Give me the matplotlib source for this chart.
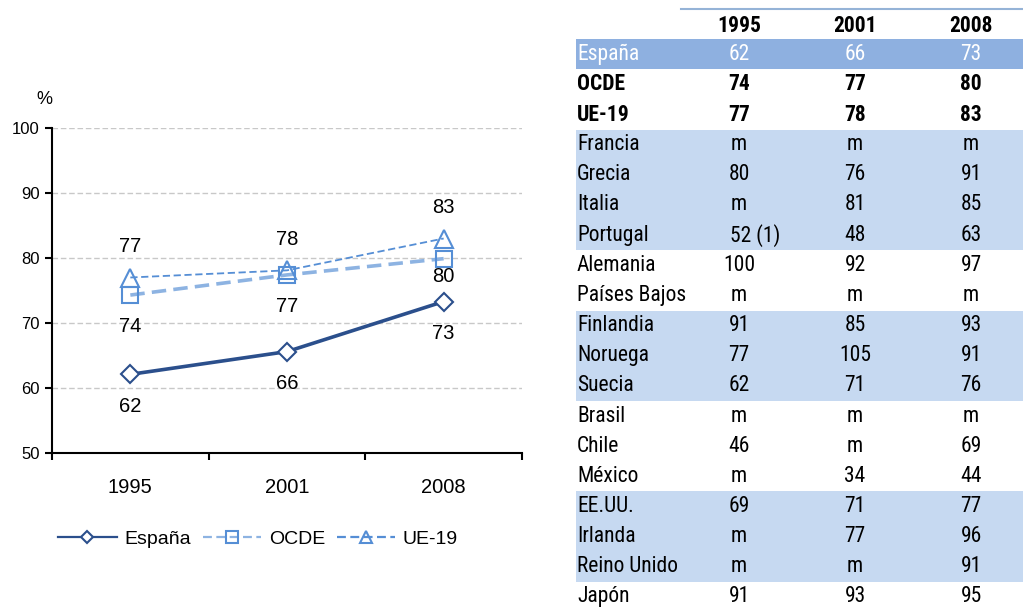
import numpy as np
import matplotlib.pyplot as plt

years = ['1995', '2001', '2008']
espana = [62.1, 65.6, 73.3]
ocde = [74.3, 77.4, 79.9]
ue19 = [77.0, 78.1, 83.0]
espana_lbl = ['62', '66', '73']
ocde_lbl = ['74', '77', '80']
ue19_lbl = ['77', '78', '83']

row_names = ['España', 'OCDE', 'UE-19', 'Francia', 'Grecia', 'Italia', 'Portugal',
             'Alemania', 'Países Bajos', 'Finlandia', 'Noruega', 'Suecia',
             'Brasil', 'Chile', 'México', 'EE.UU.', 'Irlanda', 'Reino Unido', 'Japón']
col_1995 = ['62', '74', '77', 'm', '80', 'm', '52 (1)', '100', 'm', '91', '77', '62',
            'm', '46', 'm', '69', 'm', 'm', '91']
col_2001 = ['66', '77', '78', 'm', '76', '81', '48', '92', 'm', '85', '105', '71',
            'm', 'm', '34', '71', '77', 'm', '93']
col_2008 = ['73', '80', '83', 'm', '91', '85', '63', '97', 'm', '93', '91', '76',
            'm', '69', '44', '77', '96', '91', '95']
# shaded row groups (first row, last row), 1-based data rows
bands = [(4, 7), (10, 12), (16, 18)]

DARK = '#2B4F8C'
MID = '#558ED5'
LIGHT = '#8DB3E2'

W, H = 1023, 608
fig = plt.figure(figsize=(W / 100, H / 100), dpi=100)
plt.rcParams['font.family'] = ['Liberation Sans', 'DejaVu Sans']

# ---- chart ----
ax = fig.add_axes([52 / W, (H - 453) / H, 470 / W, 325 / H])
x = np.arange(len(years))
ax.plot(x, espana, color=DARK, lw=2.6, marker='D', ms=9, mfc='white', mec=DARK, mew=1.5,
        label='España', zorder=4)
ax.plot(x, ocde, color=LIGHT, lw=2.6, ls=(0, (4, 2)), marker='s', ms=12, mfc='none', mec=MID,
        mew=1.5, label='OCDE', zorder=3)
ax.plot(x, ue19, color=MID, lw=1.3, ls=(0, (4, 2)), marker='^', ms=13, mfc='none', mec=MID,
        mew=1.5, label='UE-19', zorder=3)

for i in range(3):
    ax.annotate(espana_lbl[i], (x[i], espana[i]), xytext=(0, -23), textcoords='offset points',
                ha='center', va='center', fontsize=14.5)
    ax.annotate(ue19_lbl[i], (x[i], ue19[i]), xytext=(0, 22), textcoords='offset points',
                ha='center', va='center', fontsize=14.5)
    off = -13 if i == 2 else -23
    ax.annotate(ocde_lbl[i], (x[i], ocde[i]), xytext=(0, off), textcoords='offset points',
                ha='center', va='center', fontsize=14.5)

ax.set_xlim(-0.5, 2.5)
ax.set_ylim(50, 100)
ax.set_yticks(np.arange(50, 101, 10))
ax.set_xticks([-0.5, 0.5, 1.5, 2.5])
ax.set_xticklabels([])
ax.set_xticks(x, minor=True)
ax.set_xticklabels(years, minor=True, fontsize=14.5)
ax.tick_params(axis='x', which='minor', length=0, pad=18)
ax.tick_params(axis='x', which='major', length=5, width=1.5, direction='out')
ax.tick_params(axis='y', length=5, width=1.5, labelsize=12, pad=4)
for yv in range(60, 101, 10):
    ax.axhline(yv, color='#C8C8C8', lw=1, ls=(0, (4, 2)), zorder=0)
for s in ['top', 'right']:
    ax.spines[s].set_visible(False)
for s in ['left', 'bottom']:
    ax.spines[s].set_linewidth(1.5)
fig.text(44 / W, 1 - 100 / H, '%', ha='center', va='center', fontsize=13)

leg = fig.legend(loc='center', bbox_to_anchor=(258 / W, 1 - 539 / H), ncol=3, frameon=False,
                 fontsize=14, handlelength=3.0, columnspacing=0.6, handletextpad=0.4,
                 markerscale=0.7)
for ln in leg.get_lines():
    ln.set_linewidth(1.6)

# ---- table ----
rh = 30.15
tax = fig.add_axes([576 / W, 0, (W - 576) / W, (H - 9) / H])
nrows = (H - 9) / rh
tax.set_xlim(576, W)
tax.set_ylim(nrows, 0)
tax.axis('off')
narrow = ['Roboto Condensed', 'DejaVu Sans']
cols_x = [739, 855, 971]
fs = 15.5

tax.plot([681, W], [0, 0], color='#95B3D7', lw=1.5, clip_on=False)
for cx, yr in zip(cols_x, years):
    tax.text(cx, 0.55, yr, ha='center', va='center', fontsize=fs, fontweight='bold', family=narrow)

tax.axhspan(1, 2, color='#8EB0E0', lw=0)
for a, b in bands:
    tax.axhspan(a, b + 1, color='#C6D9F1', lw=0)

for i, name in enumerate(row_names):
    r = i + 1
    yc = r + 0.5
    color = 'white' if i == 0 else 'black'
    weight = 'bold' if i in (1, 2) else 'normal'
    tax.text(577, yc, name, ha='left', va='center', fontsize=fs, color=color,
             fontweight=weight, family=narrow)
    for cx, col in zip(cols_x, [col_1995, col_2001, col_2008]):
        val = col[i]
        if '(' in val:
            tax.text(cx - 9, yc, val, ha='left', va='center', fontsize=fs, color=color,
                     fontweight=weight, family=narrow)
        else:
            tax.text(cx, yc, val, ha='center', va='center', fontsize=fs, color=color,
                     fontweight=weight, family=narrow)

fig.savefig('out.png', dpi=100)
